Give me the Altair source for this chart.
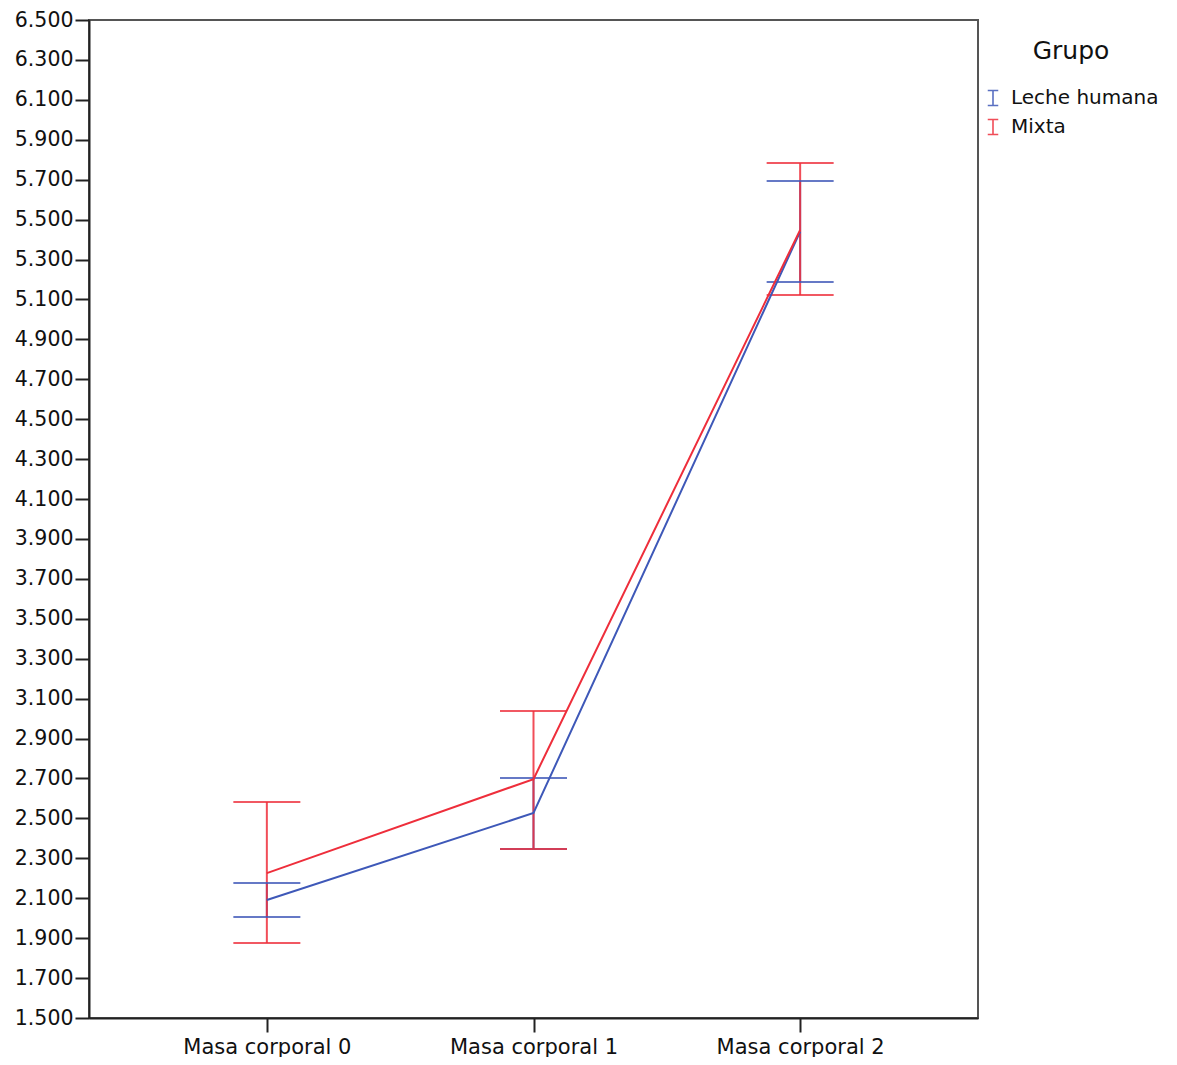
import altair as alt
import pandas as pd

categories = ["Masa corporal 0", "Masa corporal 1", "Masa corporal 2"]
groups = ["Leche humana", "Mixta"]

leche_mean = [2091, 2527, 5440]
leche_low = [2006, 2347, 5187]
leche_high = [2176, 2702, 5693]

mixta_mean = [2226, 2697, 5448]
mixta_low = [1876, 2347, 5122]
mixta_high = [2582, 3038, 5783]

y_ticks = list(range(1500, 6501, 200))
colors = ["#3e58b8", "#ee2e3b"]

rows = []
for g, m, lo, hi in [("Leche humana", leche_mean, leche_low, leche_high),
                     ("Mixta", mixta_mean, mixta_low, mixta_high)]:
    for c, a, b, h in zip(categories, m, lo, hi):
        rows.append({"cat": c, "Grupo": g, "mean": a, "low": b, "high": h})
df = pd.DataFrame(rows)

FONT = "DejaVu Sans"

x_axis = alt.Axis(labelAngle=0, labelFontSize=21, labelFont=FONT,
                  labelColor="#111", tickSize=14, tickWidth=2,
                  tickColor="#222", domainColor="#222", domainWidth=2,
                  labelPadding=4, grid=False, labelOverlap=False)
y_axis = alt.Axis(values=y_ticks, labelFontSize=20.5, labelFont=FONT,
                  labelColor="#111",
                  labelExpr="replace(format(datum.value, ',d'), ',', '.')",
                  tickSize=14, tickWidth=2, tickColor="#222",
                  domainColor="#222", domainWidth=2, grid=False,
                  labelPadding=2, labelOverlap=False)
x_scale = alt.Scale(type="point", padding=0.667)
y_scale = alt.Scale(domain=[1500, 6500], nice=False, zero=False)
legend = alt.Legend(
    title="Grupo", orient="none", legendX=894, legendY=19,
    titleFontSize=25, titleFont=FONT, titleFontWeight="normal",
    titleColor="#111", titleAnchor="middle", titlePadding=24,
    labelFontSize=20, labelFont=FONT, labelColor="#111",
    symbolType="M-0.7,-1H0.7M0,-1V1M-0.7,1H0.7",
    symbolSize=225, symbolStrokeWidth=1.6,
    symbolFillColor="transparent", rowPadding=7, labelOffset=8,
    labelLimit=300)
color_enc = alt.Color("Grupo:N", scale=alt.Scale(domain=groups, range=colors),
                      legend=legend)


def X():
    return alt.X("cat:O", sort=categories, title=None, scale=x_scale, axis=x_axis)


def Y(field):
    return alt.Y(field, scale=y_scale, title=None, axis=y_axis)


base = alt.Chart(df)

lines = base.mark_line(strokeWidth=2).encode(
    x=X(), y=Y("mean:Q"), color=color_enc, detail="Grupo:N",
)

vrules = base.mark_rule(strokeWidth=2, opacity=0.85).encode(
    x=X(), y=Y("low:Q"), y2="high:Q", color=color_enc,
)

caps_low = base.mark_tick(size=67, thickness=2, opacity=0.8).encode(
    x=X(), y=Y("low:Q"), color=color_enc,
)
caps_high = base.mark_tick(size=67, thickness=2, opacity=0.8).encode(
    x=X(), y=Y("high:Q"), color=color_enc,
)

chart = alt.layer(vrules, caps_low, caps_high, lines).properties(
    width=889, height=998,
    autosize=alt.AutoSizeParams(type="none"),
    padding={"left": 81, "top": 12, "right": 191, "bottom": 39},
).configure(background="white").configure_view(stroke="#555", strokeWidth=2)

chart.save("out.html", embed_options={"renderer": "svg", "actions": False})
